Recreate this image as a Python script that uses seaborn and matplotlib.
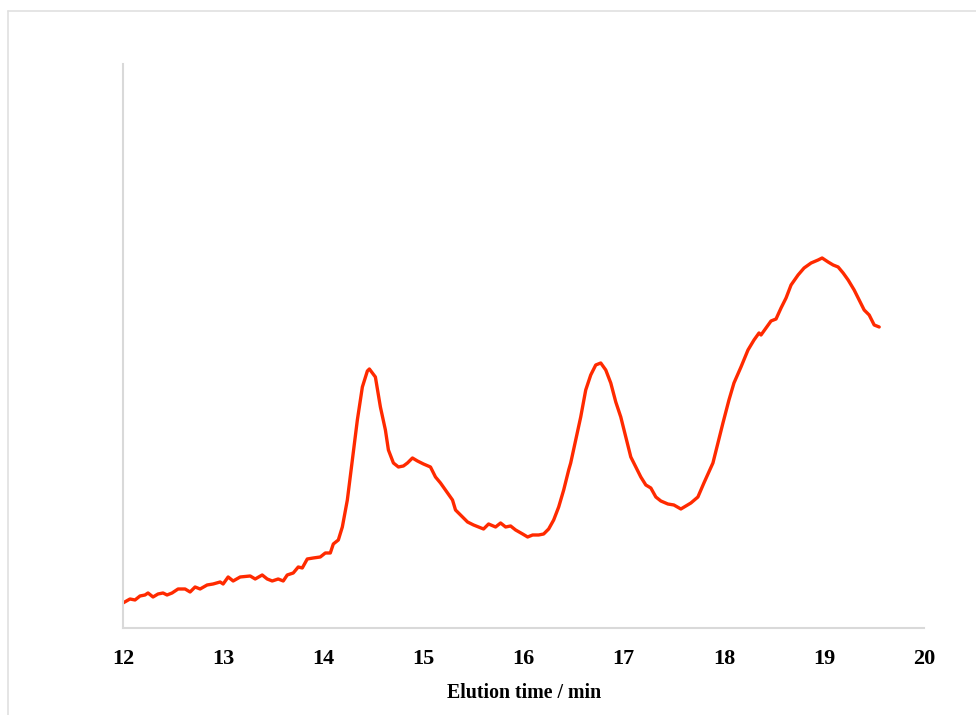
import matplotlib
matplotlib.use("Agg")
import matplotlib.pyplot as plt
from matplotlib.lines import Line2D
import seaborn as sns
import pandas as pd

# Elution time (min) and detector signal (arbitrary units)
time_min = [
    12.00, 12.07, 12.12, 12.17, 12.22, 12.25, 12.30, 12.35, 12.40, 12.44,
    12.49, 12.55, 12.62, 12.67, 12.72, 12.77, 12.84, 12.90, 12.97, 13.00,
    13.05, 13.10, 13.17, 13.27, 13.32, 13.39, 13.44, 13.49, 13.55, 13.60,
    13.64, 13.70, 13.75, 13.79, 13.84, 13.90, 13.97, 14.02, 14.07, 14.10,
    14.15, 14.19, 14.24, 14.29, 14.34, 14.39, 14.44, 14.46, 14.52, 14.57,
    14.62, 14.65, 14.70, 14.75, 14.80, 14.84, 14.89, 14.94, 15.00, 15.07,
    15.12, 15.17, 15.24, 15.29, 15.32, 15.39, 15.44, 15.50, 15.55, 15.60,
    15.65, 15.72, 15.77, 15.82, 15.87, 15.92, 15.99, 16.04, 16.09, 16.15,
    16.20, 16.25, 16.30, 16.35, 16.40, 16.45, 16.47, 16.52, 16.57, 16.62,
    16.67, 16.72, 16.77, 16.82, 16.87, 16.92, 16.97, 17.02, 17.07, 17.12,
    17.17, 17.22, 17.27, 17.32, 17.37, 17.44, 17.50, 17.57, 17.62, 17.67,
    17.74, 17.80, 17.85, 17.89, 17.94, 17.99, 18.05, 18.10, 18.17, 18.24,
    18.30, 18.35, 18.37, 18.42, 18.47, 18.52, 18.57, 18.62, 18.67, 18.74,
    18.80, 18.87, 18.94, 18.98, 19.04, 19.09, 19.14, 19.19, 19.24, 19.30,
    19.35, 19.40, 19.45, 19.50, 19.55,
]
signal = [
    2.5, 2.9, 2.8, 3.2, 3.3, 3.5, 3.1, 3.4, 3.5, 3.3,
    3.5, 3.9, 3.9, 3.6, 4.1, 3.9, 4.3, 4.4, 4.6, 4.4,
    5.1, 4.7, 5.1, 5.2, 4.9, 5.3, 4.9, 4.7, 4.9, 4.7,
    5.3, 5.5, 6.1, 6.0, 6.9, 7.0, 7.1, 7.5, 7.5, 8.4,
    8.8, 10.1, 12.8, 16.8, 20.8, 24.1, 25.7, 25.9, 25.1, 22.1,
    19.8, 17.8, 16.5, 16.1, 16.2, 16.5, 17.0, 16.7, 16.4, 16.1,
    15.1, 14.5, 13.5, 12.8, 11.8, 11.1, 10.6, 10.3, 10.1, 9.9,
    10.4, 10.1, 10.5, 10.1, 10.2, 9.8, 9.4, 9.1, 9.3, 9.3,
    9.4, 9.9, 10.8, 12.1, 13.8, 15.8, 16.5, 18.8, 21.1, 23.8,
    25.3, 26.3, 26.5, 25.8, 24.5, 22.6, 21.1, 19.1, 17.1, 16.1,
    15.1, 14.3, 14.0, 13.1, 12.7, 12.4, 12.3, 11.9, 12.2, 12.5,
    13.1, 14.5, 15.6, 16.5, 18.5, 20.5, 22.8, 24.5, 26.1, 27.8,
    28.8, 29.5, 29.3, 30.0, 30.7, 30.9, 32.0, 33.0, 34.3, 35.3,
    36.0, 36.5, 36.8, 37.0, 36.6, 36.3, 36.1, 35.5, 34.8, 33.8,
    32.8, 31.8, 31.3, 30.3, 30.1,
]
x_ticks = [12, 13, 14, 15, 16, 17, 18, 19, 20]

sns.set_style("white")
plt.rcParams["font.family"] = ["Liberation Serif", "DejaVu Serif"]

df = pd.DataFrame({"time": time_min, "signal": signal})

fig = plt.figure(figsize=(9.76, 7.15), dpi=100)
ax = fig.add_axes([0.126, 0.1217, 0.821, 0.7888])

sns.lineplot(data=df, x="time", y="signal", ax=ax, color="#ff2a00",
             linewidth=2.4, estimator=None, sort=False)

ax.set_xlim(12, 20)
ax.set_ylim(0, 56.4)
ax.set_xticks(x_ticks)
ax.set_xticklabels([str(t) for t in x_ticks], fontsize=16, fontweight="bold",
                   color="black")
ax.set_yticks([])
ax.tick_params(axis="x", length=0, pad=15)
ax.set_xlabel("Elution time / min", fontsize=14.3, fontweight="bold",
              color="black", labelpad=10)
ax.set_ylabel("")

for side in ("top", "right"):
    ax.spines[side].set_visible(False)
for side in ("left", "bottom"):
    ax.spines[side].set_color("#d9d9d9")
    ax.spines[side].set_linewidth(1.5)

# light frame around the chart area
fig.add_artist(Line2D([8 / 976, 8 / 976], [0, 1 - 11 / 715],
                      transform=fig.transFigure, color="#e0e0e0", linewidth=1.2))
fig.add_artist(Line2D([8 / 976, 1], [1 - 11 / 715, 1 - 11 / 715],
                      transform=fig.transFigure, color="#e0e0e0", linewidth=1.2))

fig.savefig("out.png", dpi=100)
